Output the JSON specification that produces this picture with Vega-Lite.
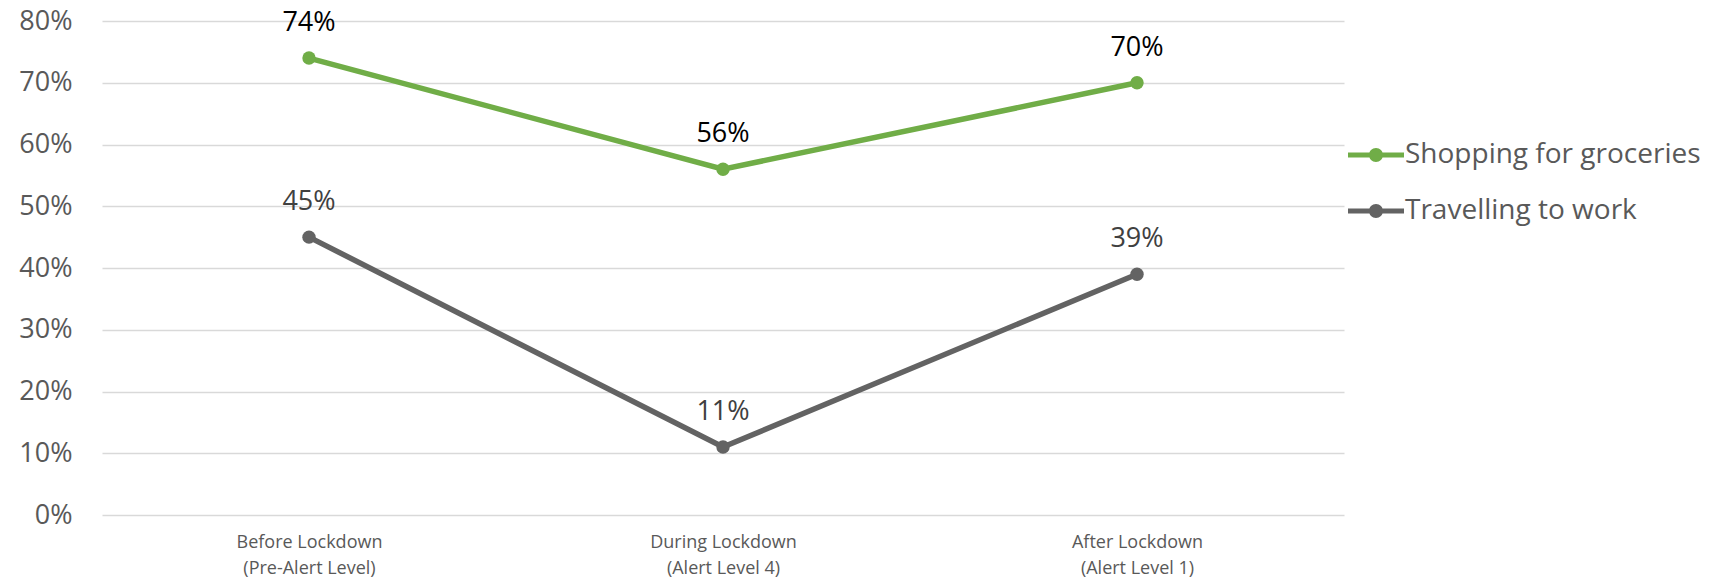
{
  "$schema": "https://vega.github.io/schema/vega-lite/v6.json",
  "width": 1242,
  "height": 494,
  "autosize": {"type": "none"},
  "padding": {"left": 102, "top": 21, "right": 380, "bottom": 63},
  "background": "white",
  "config": {
    "view": {"stroke": null},
    "font": "Open Sans"
  },
  "data": {
    "values": [
      {"period": "Before Lockdown (Pre-Alert Level)", "series": "Shopping for groceries", "value": 0.74},
      {"period": "During Lockdown (Alert Level 4)", "series": "Shopping for groceries", "value": 0.56},
      {"period": "After Lockdown (Alert Level 1)", "series": "Shopping for groceries", "value": 0.70},
      {"period": "Before Lockdown (Pre-Alert Level)", "series": "Travelling to work", "value": 0.45},
      {"period": "During Lockdown (Alert Level 4)", "series": "Travelling to work", "value": 0.11},
      {"period": "After Lockdown (Alert Level 1)", "series": "Travelling to work", "value": 0.39}
    ]
  },
  "encoding": {
    "x": {
      "field": "period",
      "type": "nominal",
      "sort": null,
      "scale": {"type": "point", "padding": 0.5},
      "axis": {
        "title": null,
        "domain": false,
        "ticks": false,
        "labelAngle": 0,
        "labelFontSize": 18,
        "labelColor": "#595959",
        "labelPadding": 18,
        "labelBaseline": "top",
        "labelLineHeight": 26,
        "labelExpr": "[slice(datum.label, 0, indexof(datum.label, ' (')), slice(datum.label, indexof(datum.label, ' (') + 1)]"
      }
    },
    "y": {
      "field": "value",
      "type": "quantitative",
      "scale": {"domain": [0, 0.8], "nice": false},
      "axis": {
        "title": null,
        "values": [0, 0.1, 0.2, 0.3, 0.4, 0.5, 0.6, 0.7, 0.8],
        "format": ".0%",
        "domain": false,
        "ticks": false,
        "grid": true,
        "gridColor": "#d9d9d9",
        "gridWidth": 1.5,
        "labelFontSize": 27,
        "labelColor": "#595959",
        "labelPadding": 30,
        "labelBaseline": "middle"
      }
    }
  },
  "layer": [
    {
      "mark": {"type": "line", "strokeWidth": 5.5},
      "encoding": {
        "color": {
          "field": "series",
          "type": "nominal",
          "scale": {"domain": ["Shopping for groceries", "Travelling to work"], "range": ["#70AD47", "#636363"]},
          "legend": {
            "title": null,
            "orient": "none",
            "legendX": 1260,
            "legendY": 120,
            "symbolType": "M-2,-0.18L-0.47,-0.18L-0.47,0.18L-2,0.18Z M0.47,-0.18L2,-0.18L2,0.18L0.47,0.18Z M0.5,0A0.5,0.5 0 1,1 -0.5,0A0.5,0.5 0 1,1 0.5,0Z",
            "symbolSize": 784,
            "symbolStrokeWidth": 0,
            "symbolOpacity": 1,
            "labelFontSize": 28,
            "labelColor": "#595959",
            "labelOffset": 15,
            "labelLimit": 400,
            "rowPadding": 28
          }
        }
      }
    },
    {
      "mark": {"type": "point", "filled": true, "opacity": 1, "size": 180},
      "encoding": {
        "color": {
          "field": "series",
          "type": "nominal",
          "scale": {"domain": ["Shopping for groceries", "Travelling to work"], "range": ["#70AD47", "#636363"]},
          "legend": {
            "title": null,
            "orient": "none",
            "legendX": 1260,
            "legendY": 120,
            "symbolType": "M-2,-0.18L-0.47,-0.18L-0.47,0.18L-2,0.18Z M0.47,-0.18L2,-0.18L2,0.18L0.47,0.18Z M0.5,0A0.5,0.5 0 1,1 -0.5,0A0.5,0.5 0 1,1 0.5,0Z",
            "symbolSize": 784,
            "symbolStrokeWidth": 0,
            "symbolOpacity": 1,
            "labelFontSize": 28,
            "labelColor": "#595959",
            "labelOffset": 15,
            "labelLimit": 400,
            "rowPadding": 28
          }
        }
      }
    },
    {
      "mark": {"type": "text", "dy": -35, "fontSize": 27, "baseline": "middle"},
      "encoding": {
        "text": {"field": "value", "type": "quantitative", "format": ".0%"},
        "color": {
          "condition": {"test": "datum.series === 'Travelling to work'", "value": "#404040"},
          "value": "#000000"
        }
      }
    }
  ]
}
